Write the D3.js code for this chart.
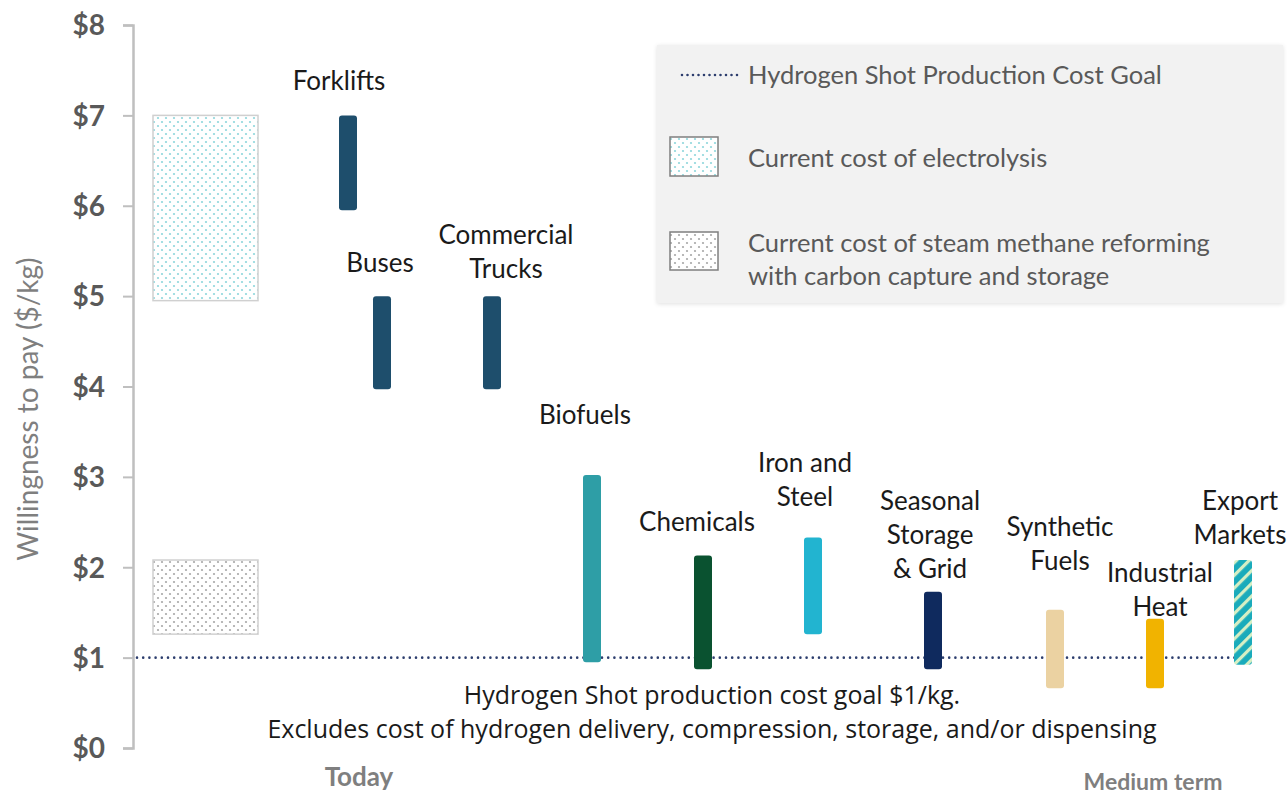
<!DOCTYPE html>
<html>
<head>
<meta charset="utf-8">
<script src="https://cdn.jsdelivr.net/npm/d3@7"></script>
<style>
  body { margin: 0; background: #fff; }
  svg { display: block; }
</style>
</head>
<body>
<svg width="1287" height="795"></svg>
<script>
// ---- data ----
var sectors = ['Forklifts', 'Buses', 'Commercial Trucks', 'Biofuels', 'Chemicals',
  'Iron and Steel', 'Seasonal Storage & Grid', 'Synthetic Fuels', 'Industrial Heat', 'Export Markets'];
var sectorLines = [['Forklifts'], ['Buses'], ['Commercial', 'Trucks'], ['Biofuels'], ['Chemicals'],
  ['Iron and', 'Steel'], ['Seasonal', 'Storage', '& Grid'], ['Synthetic', 'Fuels'], ['Industrial', 'Heat'], ['Export', 'Markets']];
// position on the today -> medium term timeline
var timeline = [2.15, 2.49, 3.59, 4.59, 5.70, 6.80, 8.00, 9.22, 10.22, 11.10];
var lowValues = [5.95, 3.97, 3.97, 0.95, 0.87, 1.26, 0.87, 0.66, 0.66, 0.92];
var highValues = [7.0, 5.0, 5.0, 3.02, 2.13, 2.33, 1.73, 1.53, 1.43, 2.08];

var refNames = ['Current cost of electrolysis', 'Current cost of steam methane reforming with carbon capture and storage'];
var refLow = [4.95, 1.26];
var refHigh = [7.0, 2.08];
var refTimeline = [0.2, 1.25]; // start, end on the timeline

var goalValue = 1;
var yTicks = [0, 1, 2, 3, 4, 5, 6, 7, 8];
var periodLabels = ['Today', 'Medium term'];
var periodTimeline = [2.26, 10.2];
var annotation = ['Hydrogen Shot production cost goal $1/kg.',
  'Excludes cost of hydrogen delivery, compression, storage, and/or dispensing'];

// ---- styling ----
var colors = ['#1e4e6c', '#1e4e6c', '#1e4e6c', '#2e9ea6', '#0a5230', '#22b4d0', '#0f2a5e', '#ebd2a2', '#f1b300', 'url(#hatch)'];
// label offsets from the top of each bar
var labelDx = [-9, -2, 14, -7, -6, -8, -3, 5, 5, -3];
var labelDy = [-34, -33, -27, -60, -34, -41, -23, -49, -12, -25];
var lineH = 34;
var labelFont = 'Lato, "Open Sans", sans-serif';

var svg = d3.select('svg');
var defs = svg.append('defs');

var x = d3.scaleLinear().domain([0, 11.5]).range([133, 1283]);
var y = d3.scaleLinear().domain([0, 8]).range([748, 25]);

// patterns
function dotPattern(id, dot) {
  var p = defs.append('pattern').attr('id', id).attr('patternUnits', 'userSpaceOnUse')
    .attr('width', 8).attr('height', 8);
  p.append('rect').attr('width', 8).attr('height', 8).attr('fill', '#fff');
  p.append('circle').attr('cx', 2).attr('cy', 2).attr('r', 1.1).attr('fill', dot);
  p.append('circle').attr('cx', 6).attr('cy', 6).attr('r', 1.1).attr('fill', dot);
}
dotPattern('dotsCyan', '#8fd6dc');
dotPattern('dotsGray', '#a8a8a8');

var hatch = defs.append('pattern').attr('id', 'hatch').attr('patternUnits', 'userSpaceOnUse')
  .attr('width', 9).attr('height', 9).attr('patternTransform', 'rotate(45)');
hatch.append('rect').attr('width', 9).attr('height', 9).attr('fill', '#1aabbb');
hatch.append('rect').attr('width', 3.2).attr('height', 9).attr('fill', '#d6efc4');

var shadow = defs.append('filter').attr('id', 'shadow').attr('x', '-5%').attr('y', '-5%')
  .attr('width', '110%').attr('height', '115%');
shadow.append('feDropShadow').attr('dx', 0).attr('dy', 1).attr('stdDeviation', 2)
  .attr('flood-color', '#000').attr('flood-opacity', 0.12);

// y axis
var yAxis = d3.axisLeft(y).tickValues(yTicks).tickFormat(function(d) { return '$' + d; })
  .tickSize(10).tickPadding(18);
var gy = svg.append('g').attr('class', 'y axis').attr('transform', 'translate(' + x(0) + ',0)').call(yAxis);
gy.select('.domain').attr('stroke', '#bfbfbf').attr('stroke-width', 2.5);
gy.selectAll('.tick line').attr('stroke', '#bfbfbf').attr('stroke-width', 2);
gy.selectAll('.tick text').attr('fill', '#595959').attr('font-family', labelFont)
  .attr('font-weight', 'bold').attr('font-size', 28).attr('dy', '0.35em');

svg.append('text')
  .attr('transform', 'translate(27,' + y(3.75) + ') rotate(-90)')
  .attr('text-anchor', 'middle').attr('dominant-baseline', 'central')
  .attr('fill', '#7f7f7f').attr('font-family', labelFont).attr('font-size', 28)
  .text('Willingness to pay ($/kg)');

// reference cost boxes
svg.selectAll('.ref').data(refNames).enter().append('rect')
  .attr('class', 'ref')
  .attr('x', function(d, i) { return x(refTimeline[0]); })
  .attr('width', x(refTimeline[1]) - x(refTimeline[0]))
  .attr('y', function(d, i) { return y(refHigh[i]); })
  .attr('height', function(d, i) { return y(refLow[i]) - y(refHigh[i]); })
  .attr('fill', function(d, i) { return i === 0 ? 'url(#dotsCyan)' : 'url(#dotsGray)'; })
  .attr('stroke', '#d0d0d0').attr('stroke-width', 1.5);

// goal line
svg.append('line')
  .attr('x1', x(0) + 4).attr('x2', x(timeline[9]))
  .attr('y1', y(goalValue)).attr('y2', y(goalValue))
  .attr('stroke', '#2d3e6e').attr('stroke-width', 2.6)
  .attr('stroke-dasharray', '0,6.2').attr('stroke-linecap', 'round');

// sector bars
var barW = 18;
svg.selectAll('.bar').data(sectors).enter().append('rect')
  .attr('class', 'bar')
  .attr('x', function(d, i) { return x(timeline[i]) - barW / 2; })
  .attr('width', barW)
  .attr('y', function(d, i) { return y(highValues[i]); })
  .attr('height', function(d, i) { return y(lowValues[i]) - y(highValues[i]); })
  .attr('rx', 3)
  .attr('fill', function(d, i) { return colors[i]; });

// sector labels
var labels = svg.selectAll('.label').data(sectors).enter().append('text')
  .attr('class', 'label')
  .attr('text-anchor', 'middle')
  .attr('font-family', labelFont).attr('font-size', 26).attr('fill', '#1a1a1a')
  .attr('transform', function(d, i) {
    var n = sectorLines[i].length;
    var tx = x(timeline[i]) + labelDx[i];
    var ty = y(highValues[i]) + labelDy[i] - (n - 1) * lineH;
    return 'translate(' + [tx, ty] + ')';
  });
labels.each(function(d, i) {
  var t = d3.select(this);
  sectorLines[i].forEach(function(line, j) {
    t.append('tspan').attr('x', 0).attr('y', j * lineH).attr('dy', '0.35em').text(line);
  });
});

// annotation below the goal line
svg.selectAll('.note').data(annotation).enter().append('text')
  .attr('class', 'note')
  .attr('x', 712).attr('y', function(d, i) { return 695 + i * 34; })
  .attr('dy', '0.35em').attr('text-anchor', 'middle')
  .attr('font-family', '"Open Sans", sans-serif').attr('font-size', 25).attr('fill', '#1a1a1a')
  .text(function(d) { return d; });

// period labels
svg.selectAll('.period').data(periodLabels).enter().append('text')
  .attr('class', 'period')
  .attr('x', function(d, i) { return x(periodTimeline[i]); })
  .attr('y', function(d, i) { return i === 0 ? 777 : 782; })
  .attr('dy', '0.35em').attr('text-anchor', 'middle')
  .attr('font-family', labelFont).attr('font-weight', 'bold')
  .attr('font-size', function(d, i) { return i === 0 ? 26 : 23; }).attr('fill', '#7f7f7f')
  .text(function(d) { return d; });

// legend
var legend = svg.append('g').attr('transform', 'translate(657,45)');
legend.append('rect').attr('width', 626).attr('height', 258).attr('fill', '#f2f2f2')
  .attr('filter', 'url(#shadow)');
legend.append('line').attr('x1', 25).attr('x2', 85).attr('y1', 30).attr('y2', 30)
  .attr('stroke', '#2d3e6e').attr('stroke-width', 2.6)
  .attr('stroke-dasharray', '0,5.5').attr('stroke-linecap', 'round');
legend.append('rect').attr('x', 13).attr('y', 92).attr('width', 48).attr('height', 39)
  .attr('fill', 'url(#dotsCyan)').attr('stroke', '#7f7f7f').attr('stroke-width', 1.5);
legend.append('rect').attr('x', 13).attr('y', 187).attr('width', 48).attr('height', 38)
  .attr('fill', 'url(#dotsGray)').attr('stroke', '#7f7f7f').attr('stroke-width', 1.5);

var legendText = [
  {lines: ['Hydrogen Shot Production Cost Goal'], y: 30},
  {lines: [refNames[0]], y: 113},
  {lines: ['Current cost of steam methane reforming', 'with carbon capture and storage'], y: 198}
];
legendText.forEach(function(item) {
  var t = legend.append('text').attr('font-family', labelFont).attr('font-size', 25.5).attr('fill', '#595959');
  item.lines.forEach(function(line, j) {
    t.append('tspan').attr('x', 91).attr('y', item.y + j * 33).attr('dy', '0.35em').text(line);
  });
});
</script>
</body>
</html>
